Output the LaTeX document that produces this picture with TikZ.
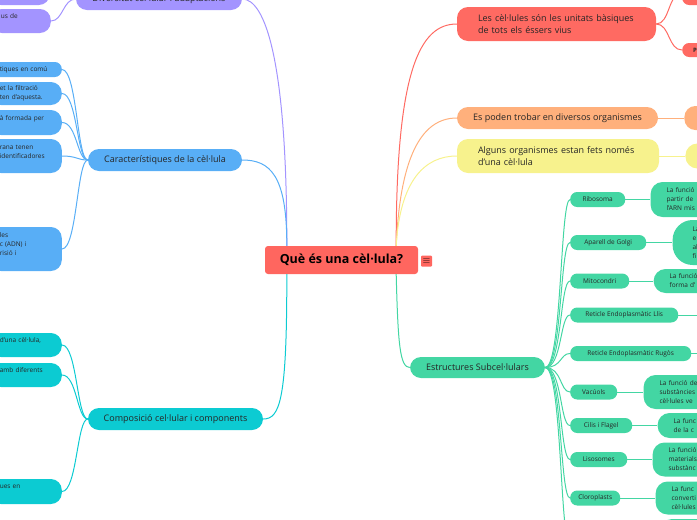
\documentclass[tikz,border=0pt]{standalone}
\usepackage{fontspec}
\setmainfont{Open Sans}
\usepackage{tikz}
\usetikzlibrary{positioning}
\definecolor{rootred}{HTML}{FF665F}
\definecolor{mapred}{HTML}{FF6A62}
\definecolor{mappurple}{HTML}{A394FF}
\definecolor{mapblue}{HTML}{58AEF6}
\definecolor{mapteal}{HTML}{0CCBD2}
\definecolor{maporange}{HTML}{FFB07C}
\definecolor{mapyellow}{HTML}{F7F28D}
\definecolor{mapgreen}{HTML}{43D6A3}
\definecolor{inkdark}{HTML}{262626}
\tikzstyle{rootbox} = [rectangle, rounded corners=3pt, fill=rootred, minimum width=153pt, minimum height=28pt, font=\fontsize{12.5}{14}\selectfont\bfseries, text=black]
\tikzstyle{topic} = [rectangle, rounded corners=11pt, minimum height=22pt, inner sep=0pt, font=\fontsize{9}{12}\selectfont, text=inkdark]
\tikzstyle{part} = [rectangle, rounded corners=7pt, minimum height=15pt, inner sep=0pt, anchor=west, fill=mapgreen, font=\fontsize{6.5}{9}\selectfont, text=inkdark]
\tikzstyle{noteL} = [rectangle, rounded corners=11pt, anchor=east, align=left, inner xsep=10pt, inner ysep=0pt, text width=52pt, font=\fontsize{6.5}{9}\selectfont, text=inkdark]
\tikzstyle{noteR} = [rectangle, rounded corners=12pt, anchor=west, align=left, inner xsep=16pt, inner ysep=0pt, text width=60pt, fill=mapgreen, font=\fontsize{6.5}{9}\selectfont, text=inkdark]
\tikzstyle{link} = [line width=1pt]

\begin{document}
\begin{tikzpicture}[x=1pt, y=-1pt]

\useasboundingbox (0,0) rectangle (697,520);

\node (root) [rootbox] at (341.5,260) {Què és una cèl·lula?};
\node (menu) [rectangle, rounded corners=1pt, fill=rootred, minimum size=11pt, inner sep=0pt, font=\fontsize{10}{10}\selectfont] at (426.5,261) {$\equiv$};

\node (divers) [topic, fill=mappurple, minimum width=166pt] at (159,-1) {Diversitat cel·lular i adaptacions};
\node (diversA) [noteL, fill=mappurple, text width=40pt, minimum height=24pt] at (50,-7) {};
\node (diversB) [noteL, fill=mappurple, text width=40pt, minimum height=24pt] at (51,21) {us de\\\mbox{}};

\node (carac) [topic, fill=mapblue, minimum width=154pt] at (165,160) {Característiques de la cèl·lula};
\node (caracA) [noteL, fill=mapblue, rounded corners=7pt, minimum height=15pt] at (62,69.5) {tiques en comú};
\node (caracB) [noteL, fill=mapblue, minimum height=23pt] at (62,93.5) {et la filtració\\ten d’aquesta.};
\node (caracC) [noteL, fill=mapblue, minimum height=25pt] at (62,122.5) {à formada per\\\mbox{}};
\node (caracD) [noteL, fill=mapblue, minimum height=34pt] at (62,156) {rana tenen\\identificadores\\\mbox{}};
\node (caracE) [noteL, fill=mapblue, minimum height=44pt] at (62,249) {les\\c (ADN) i\\risió i\\\mbox{}};

\node (compo) [topic, fill=mapteal, minimum width=175pt] at (175.5,419) {Composició cel·lular i components};
\node (compoA) [noteL, fill=mapteal, minimum height=24pt] at (62,345) {d’una cèl·lula,\\\mbox{}};
\node (compoB) [noteL, fill=mapteal, minimum height=24pt] at (62,375) {amb diferents\\\mbox{}};
\node (compoC) [noteL, fill=mapteal, minimum height=25pt] at (62,491.5) {ues en\\\mbox{}};

\node (cells) [topic, fill=mapred, minimum width=199pt, minimum height=34pt, text width=157pt, align=left] at (556.5,24) {Les cèl·lules són les unitats bàsiques\\de tots els éssers vius};
\node (cellsA) [part, fill=mapred, minimum width=40pt, minimum height=24pt] at (682,-7) {};
\node (cellsB) [part, fill=mapred, minimum height=14pt, inner xsep=11pt, font=\fontsize{6}{8}\selectfont\bfseries] at (682,50) {P};

\node (organ) [topic, fill=maporange, minimum width=201pt] at (557.5,118) {Es poden trobar en diversos organismes};
\node (organF) [part, fill=maporange, minimum width=40pt, minimum height=24pt, rounded corners=11pt, right=26pt of organ] {};

\node (unicel) [topic, fill=mapyellow, minimum width=202pt, minimum height=34pt, text width=160pt, align=left] at (558,156) {Alguns organismes estan fets només\\d’una cèl·lula};
\node (unicelF) [part, fill=mapyellow, minimum width=40pt, minimum height=25pt, rounded corners=12pt, right=26pt of unicel] {};

\node (subcel) [topic, fill=mapgreen, minimum width=135pt, minimum height=21pt] at (477.5,367.5) {Estructures Subcel·lulars};
\node (ribo) [part, minimum width=55pt] at (570,199.5) {Ribosoma};
\node (golgi) [part, minimum width=76pt] at (570,242.5) {Aparell de Golgi};
\node (mito) [part, minimum width=59pt] at (570,281) {Mitocondri};
\node (llis) [part, minimum width=108pt] at (570,315) {Reticle Endoplasmàtic Llis};
\node (rugos) [part, minimum width=121pt] at (570,353.5) {Reticle Endoplasmàtic Rugòs};
\node (vacu) [part, minimum width=47pt] at (570,392) {Vacúols};
\node (cilis) [part, minimum width=62pt] at (570,425.5) {Cilis i Flagel};
\node (liso) [part, minimum width=57pt] at (570,459.5) {Lisosomes};
\node (cloro) [part, minimum width=50pt] at (570,498) {Cloroplasts};
\coordinate (nextPart) at (570,545);
\coordinate (llisEnd) at (700,315);
\coordinate (rugosEnd) at (700,353.5);

\node (riboF) [noteR, minimum height=35pt, right=25pt of ribo] {La funció\\partir de\\l’ARN mis};
\node (golgiF) [noteR, minimum height=45pt, inner xsep=20pt, rounded corners=20pt, right=26pt of golgi] {La\\e\\al\\fi};
\node (mitoF) [noteR, minimum height=24pt, right=24pt of mito] {La funció\\forma d’};
\node (vacuF) [noteR, minimum height=34pt, right=26pt of vacu] {La funció de\\substàncies\\cèl·lules ve};
\node (cilisF) [noteR, minimum height=25pt, right=25pt of cilis] {La func\\de la c};
\node (lisoF) [noteR, minimum height=34pt, right=25pt of liso] {La funció\\materials\\substànc};
\node (cloroF) [noteR, minimum height=33pt, right=35pt of cloro] {La func\\converti\\cèl·lules};
\node (nextF) [noteR, minimum height=30pt] at (660,534) {};

\draw [link, mappurple] ([xshift=22pt]root.north west) .. controls (287,60) and (265,-1) .. (divers.east);
\draw [link, mapblue] ([xshift=22pt]root.north west) .. controls (287,175) and (270,160) .. (carac.east);
\draw [link, mapteal] ([xshift=22pt]root.south west) .. controls (287,400) and (280,419) .. (compo.east);
\draw [link, mapred] ([xshift=-22pt]root.north east) .. controls (396,70) and (420,24) .. (cells.west);
\draw [link, maporange] ([xshift=-22pt]root.north east) .. controls (400,160) and (420,118) .. (organ.west);
\draw [link, mapyellow] ([xshift=-22pt]root.north east) .. controls (400,180) and (425,156) .. (unicel.west);
\draw [link, mapgreen] ([xshift=-22pt]root.south east) .. controls (398,345) and (400,367.5) .. (subcel.west);

\draw [link, mappurple] (divers.west) .. controls (63,-1) and (63,-7) .. (diversA.east);
\draw [link, mappurple] (divers.west) .. controls (63,-1) and (63,21) .. (diversB.east);

\draw [link, mapblue] (carac.west) .. controls (77,160) and (77,69.5) .. (caracA.east);
\draw [link, mapblue] (carac.west) .. controls (77,160) and (77,93.5) .. (caracB.east);
\draw [link, mapblue] (carac.west) .. controls (77,160) and (77,122.5) .. (caracC.east);
\draw [link, mapblue] (carac.west) .. controls (77,160) and (77,156) .. (caracD.east);
\draw [link, mapblue] (carac.west) .. controls (77,160) and (77,249) .. (caracE.east);

\draw [link, mapteal] (compo.west) .. controls (77,419) and (77,345) .. (compoA.east);
\draw [link, mapteal] (compo.west) .. controls (77,419) and (77,375) .. (compoB.east);
\draw [link, mapteal] (compo.west) .. controls (77,419) and (77,491.5) .. (compoC.east);

\draw [link, mapred] (cells.east) .. controls (670,24) and (668,-7) .. (cellsA.west);
\draw [link, mapred] (cells.east) .. controls (670,24) and (668,50) .. (cellsB.west);
\draw [link, maporange] (organ) -- (organF);
\draw [link, mapyellow] (unicel) -- (unicelF);

\foreach \part in {ribo, golgi, mito, llis, rugos, vacu, cilis, liso, cloro, nextPart}
  \draw [link, mapgreen] (subcel.east) .. controls (562,367.5) and (560,0 |- \part.west) .. (\part.west);

\draw [link, mapgreen] (ribo) -- (riboF);
\draw [link, mapgreen] (golgi) -- (golgiF);
\draw [link, mapgreen] (mito) -- (mitoF);
\draw [link, mapgreen] (llis) -- (llisEnd);
\draw [link, mapgreen] (rugos) -- (rugosEnd);
\draw [link, mapgreen] (vacu) -- (vacuF);
\draw [link, mapgreen] (cilis) -- (cilisF);
\draw [link, mapgreen] (liso) -- (lisoF);
\draw [link, mapgreen] (cloro) -- (cloroF);

\end{tikzpicture}
\end{document}
